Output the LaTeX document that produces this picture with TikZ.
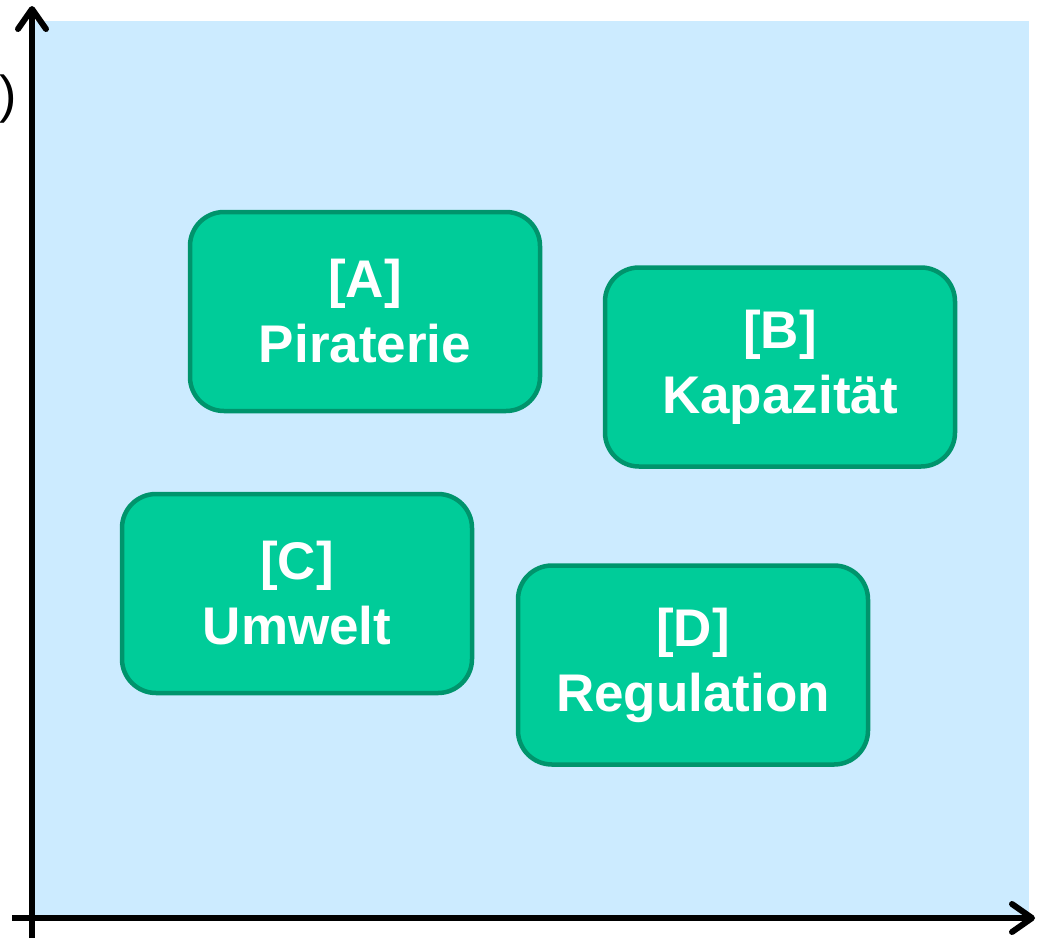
\documentclass[tikz,border=0pt]{standalone}
\usepackage{fontspec}
\setmainfont{Liberation Sans}
\usetikzlibrary{arrows.meta}
\definecolor{bgblue}{RGB}{204,235,255}
\definecolor{boxfill}{RGB}{0,204,153}
\definecolor{boxline}{RGB}{0,148,108}
\tikzset{
  card/.style={draw=boxline, line width=4.5pt, fill=boxfill, rounded corners=34pt,
    minimum width=350pt, minimum height=199pt, align=center, text=white,
    font=\fontsize{53}{65}\selectfont\bfseries, inner sep=0pt},
  axis/.style={line width=6pt, -{Straight Barb[length=20pt,width=28pt,line cap=round,line join=round]}}
}
\begin{document}
\begin{tikzpicture}[x=1pt,y=-1pt]
\useasboundingbox (0,0) rectangle (1039,940);
\fill[bgblue] (32,21) rectangle (1029,918);
\coordinate (o1) at (32,938);
\coordinate (yt) at (32,6);
\coordinate (o2) at (12,918);
\coordinate (xt) at (1035,918);
\draw[axis] (o1) -- (yt);
\draw[axis] (o2) -- (xt);
\node[anchor=east, inner sep=0pt, font=\fontsize{52}{56}\selectfont] (lbl) at (17,99) {)};
\node[card] (A) at (365,311.5) {[A]\\Piraterie};
\node[card] (B) at (780,367) {[B]\\Kapazität};
\node[card] (C) at (297,593.5) {[C]\\Umwelt};
\node[card] (D) at (693,665) {[D]\\Regulation};
\end{tikzpicture}
\end{document}
